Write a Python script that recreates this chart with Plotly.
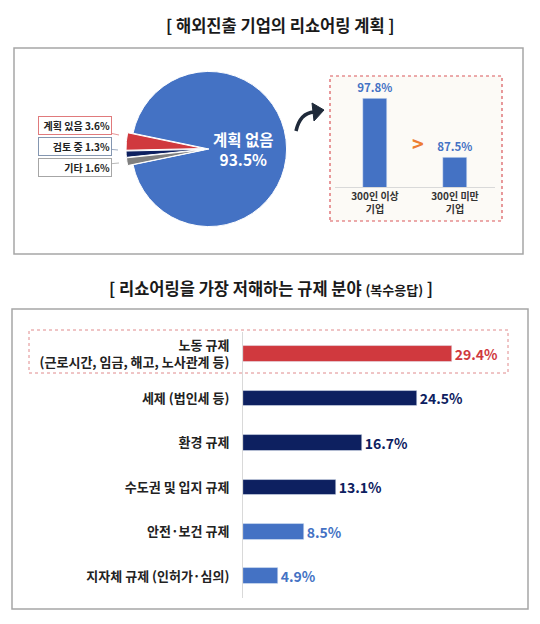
import plotly.graph_objects as go

# the page body keeps its 8px margin, so the figure is drawn 8px smaller each way
OFF = 8
W, H = 540 - 2 * OFF, 624 - 2 * OFF

# 해외진출 기업의 리쇼어링 계획
pie_labels = ['계획 없음', '계획 있음', '검토 중', '기타']
pie_values = [93.5, 3.6, 1.3, 1.6]
pie_colors = ['#4472C4', '#D0393E', '#0D2060', '#7F7F7F']

size_cats = ['300인 이상<br>기업', '300인 미만<br>기업']
size_values = [97.8, 87.5]

# 리쇼어링을 가장 저해하는 규제 분야
reg_cats = ['노동 규제<br>(근로시간, 임금, 해고, 노사관계 등)', '세제 (법인세 등)', '환경 규제',
            '수도권 및 입지 규제', '안전·보건 규제', '지자체 규제 (인허가·심의)']
reg_values = [29.4, 24.5, 16.7, 13.1, 8.5, 4.9]
reg_colors = ['#D0393E', '#0D2060', '#0D2060', '#0D2060', '#4472C4', '#4472C4']

FONT = 'Noto Sans CJK KR'


# screen pixel -> paper fraction
def px(x):
    return (x - OFF) / W


def py(y):
    return (H - (y - OFF)) / H


fig = go.Figure()

fig.add_trace(go.Pie(
    labels=pie_labels, values=pie_values, sort=False, direction='counterclockwise',
    rotation=281.7, textinfo='none', hoverinfo='label+value',
    pull=[0, 0.07, 0.07, 0.07],
    marker=dict(colors=pie_colors, line=dict(color='white', width=1)),
    domain=dict(x=[px(126), px(292)], y=[py(232), py(66)]),
    showlegend=False,
))

fig.add_trace(go.Bar(
    x=size_cats, y=size_values, width=0.31, marker_color='#4472C4',
    text=[f'{v}%' for v in size_values], textposition='outside', cliponaxis=False,
    constraintext='none',
    textfont=dict(color='#4472C4', size=11.5, family=FONT, weight='bold'),
    xaxis='x', yaxis='y', showlegend=False,
))

fig.add_trace(go.Bar(
    x=reg_values, y=reg_cats, orientation='h', width=0.35,
    marker_color=reg_colors,
    text=[f'{v}%' for v in reg_values], textposition='outside', cliponaxis=False,
    constraintext='none',
    textfont=dict(color=reg_colors, size=14, family=FONT, weight='bold'),
    xaxis='x2', yaxis='y2', showlegend=False,
))

shapes = [
    # 바깥 상자
    dict(type='rect', xref='paper', yref='paper', x0=px(14), x1=px(523), y0=py(254), y1=py(48),
         line=dict(color='#A6A6A6', width=1.5), layer='below'),
    dict(type='rect', xref='paper', yref='paper', x0=px(12), x1=px(528), y0=py(609), y1=py(309),
         line=dict(color='#A6A6A6', width=1.5), layer='below'),
    # 기업 규모별 상자
    dict(type='rect', xref='paper', yref='paper', x0=px(330), x1=px(502), y0=py(221), y1=py(76),
         line=dict(color='#D9575B', width=1.2, dash='dot'), fillcolor='#FCFAF6', layer='below'),
    # 노동 규제 강조
    dict(type='rect', xref='paper', yref='paper', x0=px(29), x1=px(508), y0=py(373), y1=py(330),
         line=dict(color='#E08A8C', width=1, dash='dot'), fillcolor='rgba(0,0,0,0)', layer='below'),
    # 곡선 화살표
    dict(type='path', xref='paper', yref='paper',
         path=f'M {px(296)} {py(131)} Q {px(300)} {py(113)} {px(314)} {py(112)}',
         line=dict(color='#1F2A3A', width=3.5)),
    dict(type='path', xref='paper', yref='paper',
         path=f'M {px(324)} {py(110)} L {px(312)} {py(103)} L {px(314)} {py(121)} Z',
         line=dict(color='#1F2A3A', width=1), fillcolor='#1F2A3A'),
]

annotations = [
    dict(text='[ 해외진출 기업의 리쇼어링 계획 ]', x=px(280), y=py(25),
         font=dict(size=16.5, color='#1A1A1A', weight='bold')),
    dict(text="[ 리쇼어링을 가장 저해하는 규제 분야 <span style='font-size:13px'>(복수응답)</span> ]",
         x=px(271), y=py(288), font=dict(size=16.5, color='#1A1A1A', weight='bold')),
    dict(text=f'{pie_labels[0]}<br>{pie_values[0]}%', x=px(243), y=py(149),
         font=dict(size=15.5, color='white', weight='bold')),
    dict(text='&gt;', x=px(418), y=py(143), font=dict(size=20, color='#ED7D31', weight='bold')),
]
for a in annotations:
    a.update(xanchor='center', yanchor='middle')

# 작은 조각 라벨 상자
box_colors = ['#E07A7C', '#8496B0', '#A6A6A6']
tips = [(119, 135), (118, 150), (119, 163)]
centers = [(74.5, 125.5), (74.5, 146), (74.5, 167)]
for lab, val, bc, (tx, ty), (cx, cy) in zip(pie_labels[1:], pie_values[1:], box_colors, tips, centers):
    annotations.append(dict(
        text=f'{lab} {val}%', x=px(tx), y=py(ty), xref='paper', yref='paper',
        showarrow=True, arrowhead=0, arrowwidth=0.8, arrowcolor=bc,
        ax=cx - tx, ay=cy - ty, width=70, align='right', bordercolor=bc, borderwidth=1,
        borderpad=1, bgcolor='white', font=dict(size=10, color='#222222', weight='bold'),
    ))

for a in annotations:
    a.setdefault('xref', 'paper')
    a.setdefault('yref', 'paper')
    a.setdefault('showarrow', False)

fig.update_layout(
    width=W, height=H, margin=dict(l=0, r=0, t=0, b=0),
    paper_bgcolor='white', plot_bgcolor='rgba(0,0,0,0)',
    font=dict(family=FONT, color='#222222'),
    shapes=shapes, annotations=annotations,
    xaxis=dict(domain=[px(335), px(495)], type='category', showline=True, linecolor='#D9D9D9',
               showgrid=False, zeroline=False, ticks='', fixedrange=True,
               tickfont=dict(size=10, color='#333333', weight='bold'), anchor='y'),
    yaxis=dict(domain=[py(187), py(86.6)], range=[82.2, 100], visible=False, anchor='x'),
    xaxis2=dict(domain=[px(243), px(492.2)], range=[0, 35], visible=False, anchor='y2'),
    yaxis2=dict(domain=[py(598.2), py(331.8)], type='category', autorange='reversed',
                showline=True, linecolor='#D9D9D9', showgrid=False, zeroline=False, ticks='',
                ticklabelstandoff=10, anchor='x2',
                tickfont=dict(size=13, color='#222222', weight='bold')),
    bargap=0,
)

fig.write_html('out.html')
